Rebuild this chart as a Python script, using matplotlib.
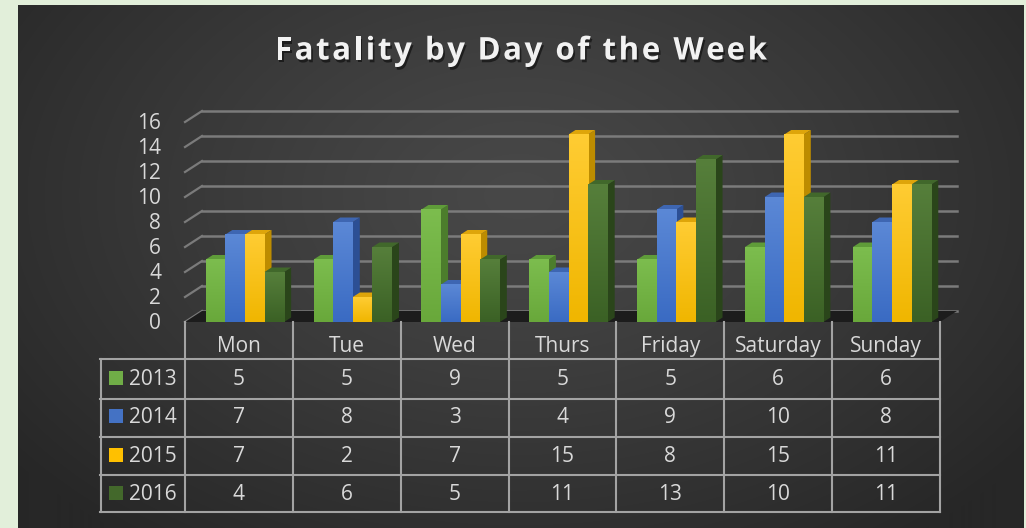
import numpy as np
import matplotlib
matplotlib.use("Agg")
import matplotlib.pyplot as plt
from matplotlib.patches import Polygon, Rectangle
from matplotlib.lines import Line2D
import matplotlib.transforms as mtransforms
import matplotlib.patheffects as pe
from matplotlib.colors import to_rgb

# ---------------- data ----------------
title = "Fatality by Day of the Week"
days = ["Mon", "Tue", "Wed", "Thurs", "Friday", "Saturday", "Sunday"]
years = ["2013", "2014", "2015", "2016"]
v2013 = [5, 5, 9, 5, 5, 6, 6]
v2014 = [7, 8, 3, 4, 9, 10, 8]
v2015 = [7, 2, 7, 15, 8, 15, 11]
v2016 = [4, 6, 5, 11, 13, 10, 11]
y_ticks = [0, 2, 4, 6, 8, 10, 12, 14, 16]
series = [v2013, v2014, v2015, v2016]

# ---------------- style ----------------
legend_col = ["#70ad47", "#4472c4", "#ffc000", "#43682b"]
front_top = ["#7cbd4e", "#5b88d6", "#ffcc33", "#567f3b"]
front_bot = ["#69a83b", "#3a6bc3", "#f0b600", "#3b6125"]
top_col = ["#5f9c39", "#3e66b2", "#dea50a", "#41682b"]
side_col = ["#4c7d2c", "#2c4f94", "#bd8c00", "#2a451a"]
txt_c = "#d9d9d9"
grid_c = "#7b7b7b"
line_c = "#a3a3a3"
FONT = "Open Sans"
FS = 15

W, H = 1026, 528
fig = plt.figure(figsize=(W / 100, H / 100), dpi=100)
fig.patch.set_facecolor("#e2efda")


def fx(px):
    return px / W


def fy(py):
    return 1 - py / H


# ---------------- dark background panel ----------------
bg = fig.add_axes([fx(18), 0, fx(1023) - fx(18), fy(5)])
bg.set_axis_off()
ph, pw = 523, 1005
yy, xx = np.mgrid[0:ph, 0:pw]
d = np.sqrt(((xx - 500) / 640) ** 2 + ((yy - 190) / 430) ** 2)
t = np.clip(d, 0, 1) ** 1.2
c0 = np.array([0x48] * 3) / 255
c1 = np.array([0x27] * 3) / 255
img = c0 * (1 - t[..., None]) + c1 * t[..., None]
bg.imshow(img, extent=[0, 1, 0, 1], aspect="auto", origin="upper")
bg.set_xlim(0, 1)
bg.set_ylim(0, 1)

# ---------------- main axes ----------------
X0, X1 = 185, 940
Y0, Y16 = 322, 122
ax = fig.add_axes([fx(X0), fy(Y0), (X1 - X0) / W, (Y0 - Y16) / H])
ax.set_axis_off()
ax.patch.set_alpha(0)
n = len(days)
cpx = (X1 - X0) / n
upx = (Y0 - Y16) / (y_ticks[-1] - y_ticks[0])


def dxp(p):
    return p / cpx


def dyp(p):
    return p / upx


WX, WY = 17, 11
# back-wall gridlines and side-wall diagonals
for v in y_ticks:
    ax.add_line(Line2D([-0.5, -0.5 + dxp(WX)], [v, v + dyp(WY)], color=grid_c,
                       lw=1.6, clip_on=False, zorder=2))
    ax.add_line(Line2D([-0.5 + dxp(WX), n - 0.5 + dxp(WX)], [v + dyp(WY)] * 2,
                       color=grid_c, lw=1.8, clip_on=False, zorder=2))

# floor
floor = Polygon([(-0.5, 0), (n - 0.5, 0), (n - 0.5 + dxp(WX), dyp(WY)),
                 (-0.5 + dxp(WX), dyp(WY))], closed=True, facecolor="#1c1c1c",
                edgecolor="none", zorder=3, clip_on=False)
ax.add_patch(floor)

# y tick labels
lab_tr = mtransforms.offset_copy(ax.transData, fig=fig, x=-24, y=-1.5, units="dots")
for v in y_ticks:
    ax.text(-0.5, v, str(v), transform=lab_tr, ha="right", va="center",
            fontsize=FS, color=txt_c, family=FONT)

# bars (pseudo-3D)
bw = dxp(19.6)
shift = dxp(6)
SDX, SDY = dxp(7), dyp(4.5)
k = 0
for i in range(n):
    for j, vals in enumerate(series):
        h = vals[i]
        xl = i - 2 * bw + j * bw + shift
        xr = xl + bw
        base = 10 + k * 0.1
        side = Polygon([(xr, 0), (xr + SDX, SDY), (xr + SDX, h + SDY), (xr, h)],
                       closed=True, facecolor=side_col[j], edgecolor="none",
                       zorder=base, clip_on=False)
        top = Polygon([(xl, h), (xr, h), (xr + SDX, h + SDY), (xl + SDX, h + SDY)],
                      closed=True, facecolor=top_col[j], edgecolor="none",
                      zorder=base, clip_on=False)
        ax.add_patch(side)
        ax.add_patch(top)
        ct, cb = np.array(to_rgb(front_top[j])), np.array(to_rgb(front_bot[j]))
        g = np.linspace(0, 1, 64)[:, None, None]
        grad = cb * (1 - g) + ct * g
        ax.imshow(grad, extent=[xl, xr, 0, h], origin="lower", aspect="auto",
                  zorder=base + 0.05, clip_on=False, interpolation="bilinear")
        k += 1

ax.set_xlim(-0.5, n - 0.5)
ax.set_ylim(0, 16)

# ---------------- title (letter-spaced) ----------------
renderer = fig.canvas.get_renderer()
title_kw = dict(fontsize=22.5, fontweight="bold", family=FONT)


def text_width(s):
    if not s:
        return 0.0
    tt = fig.text(0, 0, s, **title_kw)
    w = tt.get_window_extent(renderer).width
    tt.remove()
    return w


T_LEFT, T_RIGHT = 275, 767
natural = text_width(title)
sp = (T_RIGHT - T_LEFT - natural) / (len(title) - 1)
shadow = [pe.SimplePatchShadow(offset=(1.2, -2), shadow_rgbFace="black", alpha=0.5),
          pe.Normal()]
for ci, ch in enumerate(title):
    if ch == " ":
        continue
    xpos = T_LEFT + text_width(title[:ci]) + ci * sp
    fig.text(fx(xpos), fy(59.5), ch, ha="left", va="baseline", color="#f2f2f2",
             path_effects=shadow, **title_kw)

# ---------------- data table ----------------
trc = mtransforms.blended_transform_factory(ax.transData, fig.transFigure)
row_lines = [359, 398.5, 436.5, 474.5, 512]
for c in range(n + 1):
    fig.add_artist(Line2D([c - 0.5, c - 0.5], [fy(322), fy(512)], transform=trc,
                          color=line_c, lw=1.5))
for r in row_lines:
    fig.add_artist(Line2D([fx(100), fx(940)], [fy(r), fy(r)], color=line_c, lw=1.5))
fig.add_artist(Line2D([fx(101), fx(101)], [fy(359), fy(512)], color=line_c, lw=1.5))

for i, dname in enumerate(days):
    fig.text(i, fy(352.3), dname, transform=trc, ha="center", va="baseline",
             fontsize=FS, color=txt_c, family=FONT)

baselines = [385, 423.3, 461.5, 500]
for j, (yr, vals) in enumerate(zip(years, series)):
    bl = baselines[j]
    fig.add_artist(Rectangle((fx(109), fy(bl)), fx(14), 14 / H,
                             facecolor=legend_col[j], edgecolor="none"))
    fig.text(fx(129), fy(bl), yr, ha="left", va="baseline", fontsize=FS,
             color=txt_c, family=FONT)
    for i, v in enumerate(vals):
        fig.text(i, fy(bl), str(v), transform=trc, ha="center", va="baseline",
                 fontsize=FS, color=txt_c, family=FONT)

fig.savefig("out.png", dpi=100, facecolor=fig.get_facecolor())
